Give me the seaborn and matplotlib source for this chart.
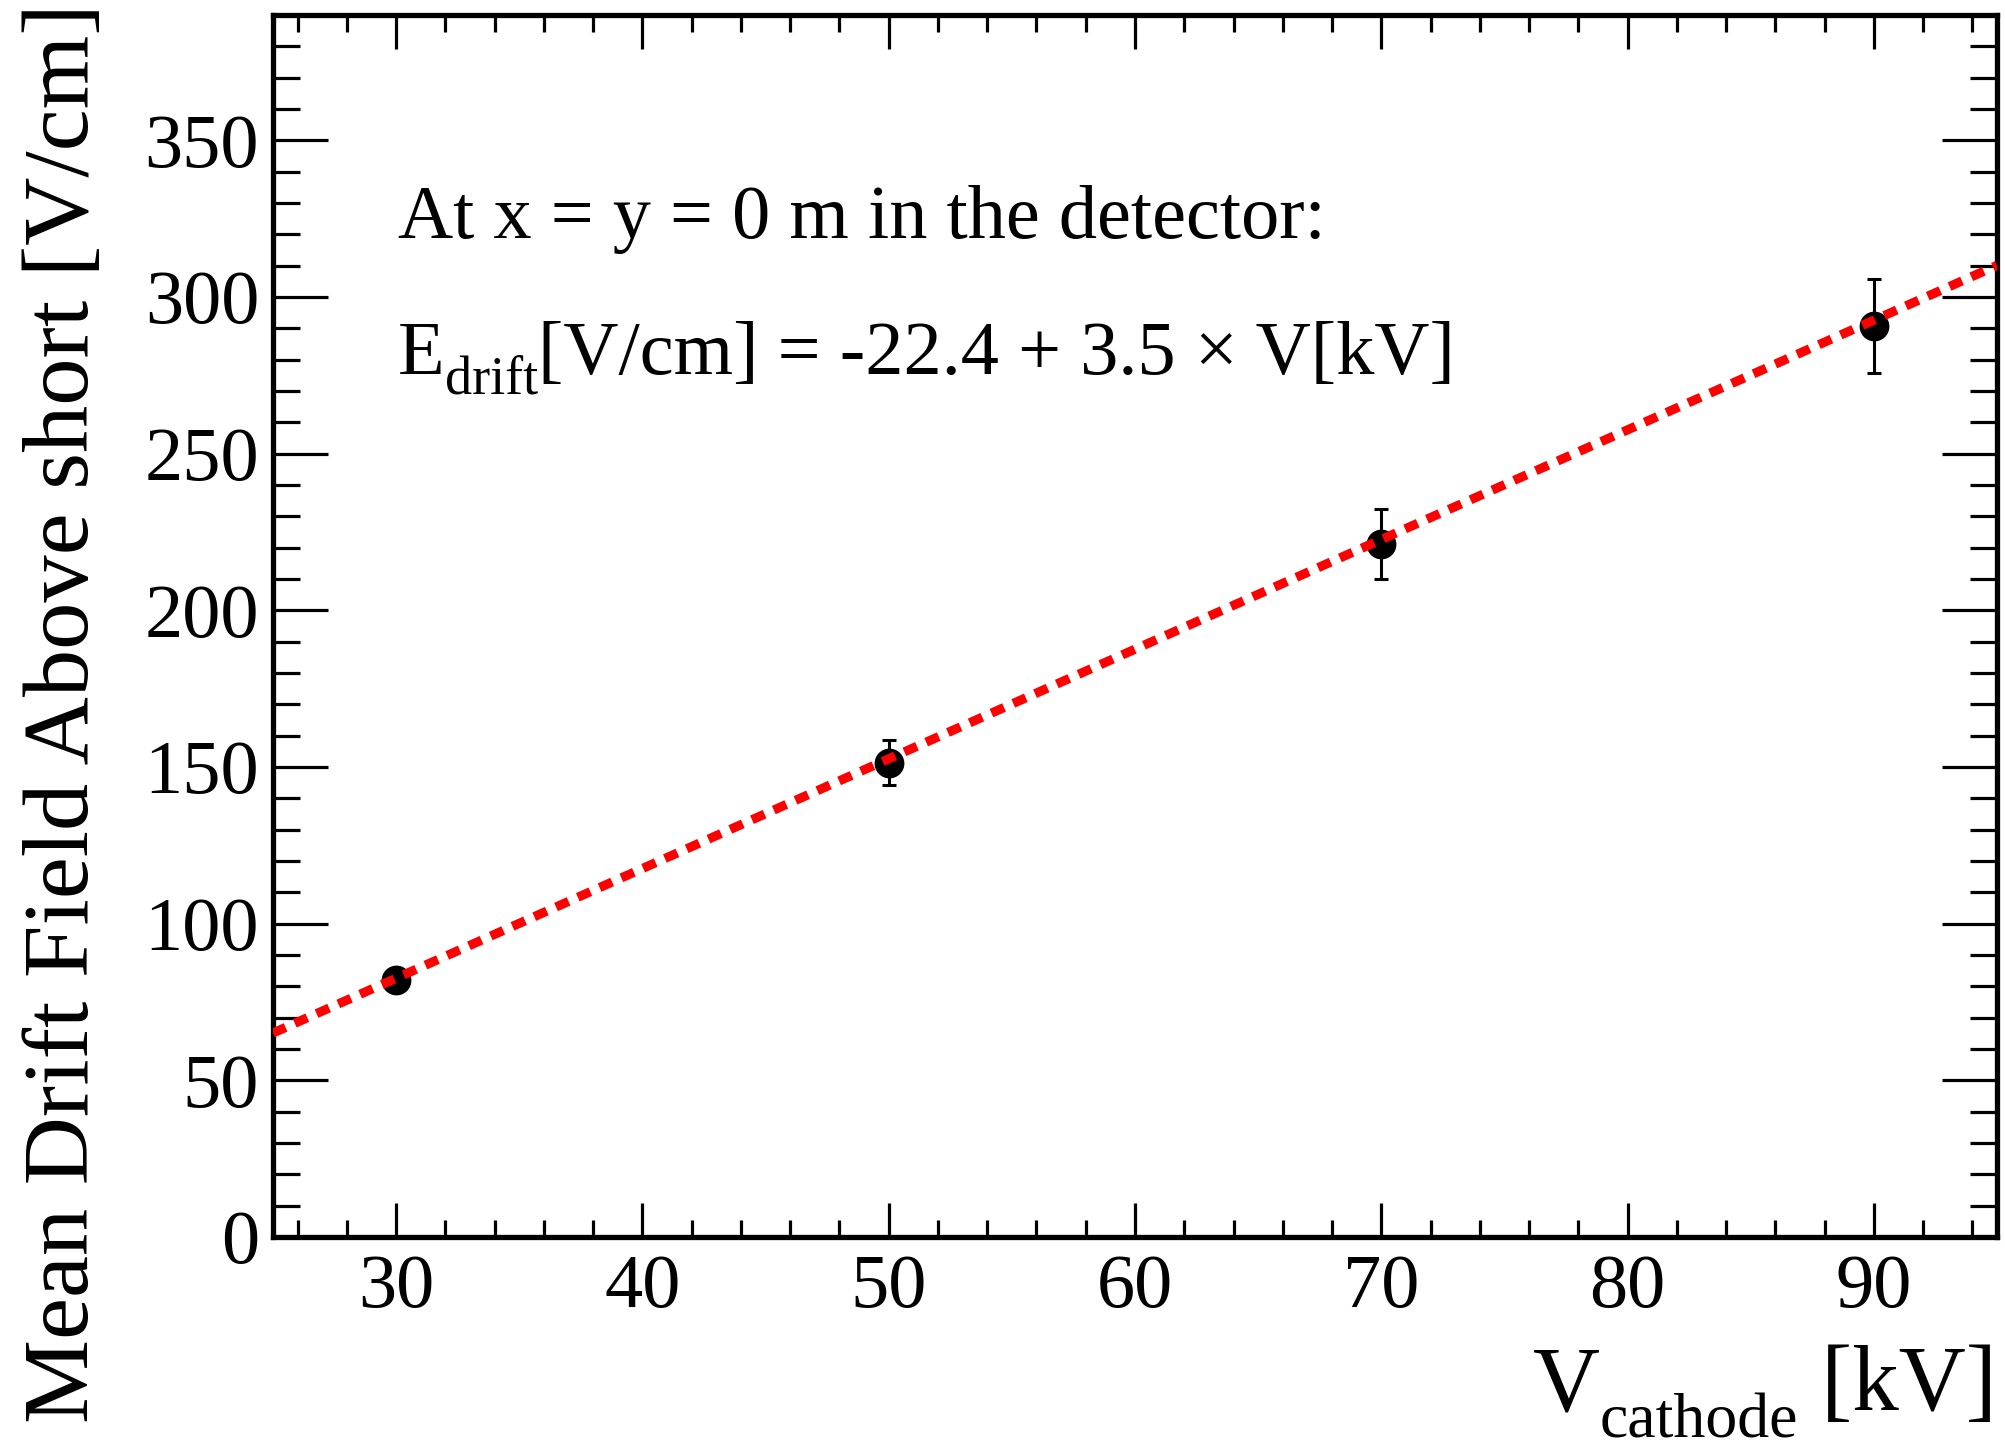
import matplotlib
matplotlib.use("Agg")
import matplotlib.pyplot as plt
import seaborn as sns
import numpy as np
import pandas as pd
from matplotlib.ticker import MultipleLocator

# ---- data ----
v_cathode = [30, 50, 70, 90]
e_drift = [82.0, 151.4, 221.2, 290.6]
e_err = [3.0, 7.2, 11.1, 15.0]
fit_intercept = -22.4
fit_slope = 3.5
fit_range = [25, 95]
x_ticks = [30, 40, 50, 60, 70, 80, 90]
y_ticks = [0, 50, 100, 150, 200, 250, 300, 350]

sns.set_theme(style="ticks")
plt.rcParams["font.family"] = ["Liberation Serif", "DejaVu Serif"]
plt.rcParams["text.color"] = "black"
plt.rcParams["axes.labelcolor"] = "black"
plt.rcParams["xtick.color"] = "black"
plt.rcParams["ytick.color"] = "black"

W, H = 2006, 1447
fig = plt.figure(figsize=(W / 100, H / 100), dpi=100)
L, R, T, B = 273, 1997, 15, 1237
ax = fig.add_axes([L / W, 1 - B / H, (R - L) / W, (B - T) / H])

df = pd.DataFrame({"V": v_cathode, "E": e_drift, "err": e_err})

fx = np.array(fit_range, dtype=float)
fit_df = pd.DataFrame({"V": fx, "E": fit_intercept + fit_slope * fx})

ax.errorbar(df["V"], df["E"], yerr=df["err"], fmt="none", ecolor="black",
            elinewidth=2.2, capsize=5, capthick=2.2, zorder=3)
sns.scatterplot(data=df, x="V", y="E", ax=ax, color="black", s=460,
                edgecolor="black", linewidth=0, zorder=4, legend=False)
sns.lineplot(data=fit_df, x="V", y="E", ax=ax, color="#ff0000", lw=6.6,
             zorder=5, legend=False)
ax.lines[-1].set_dashes((1.5, 1.1))
ax.lines[-1].set_dash_capstyle("butt")

ax.set_xlim(25, 95)
ax.set_ylim(0, 390)
ax.set_xticks(x_ticks)
ax.set_yticks(y_ticks)
ax.xaxis.set_minor_locator(MultipleLocator(2))
ax.yaxis.set_minor_locator(MultipleLocator(10))

for s in ax.spines.values():
    s.set_linewidth(3.8)
    s.set_color("black")
ax.tick_params(axis="both", which="both", direction="in", top=True, right=True,
               colors="black", labelsize=55)
ax.tick_params(axis="x", which="major", length=24.5, width=2.3, pad=12)
ax.tick_params(axis="x", which="minor", length=12, width=2.3)
ax.tick_params(axis="y", which="major", length=39.5, width=2.3, pad=10)
ax.tick_params(axis="y", which="minor", length=19.5, width=2.3)
ax.set_xlabel("")
ax.set_ylabel("")

renderer = fig.canvas.get_renderer()


def compose(x_px, y_px, pieces, align="left"):
    """pieces: list of (text, fontsize, dy_px). Baseline at y_px (from top)."""
    widths = []
    for txt, fs, dy in pieces:
        t = fig.text(0, 0, txt, fontsize=fs)
        bb = t.get_window_extent(renderer)
        widths.append(bb.width)
        t.remove()
    total = sum(widths)
    x = x_px - total if align == "right" else x_px
    for (txt, fs, dy), w in zip(pieces, widths):
        fig.text(x / W, 1 - (y_px + dy) / H, txt, fontsize=fs, ha="left",
                 va="baseline")
        x += w


compose(R, 1410, [("V", 67, 0), ("cathode", 46, 27), (" [kV]", 67, 0)],
        align="right")
fig.text(66 / W, 1 - 3 / H, "Mean Drift Field Above short [V/cm]", ha="center",
         va="top", rotation=90, fontsize=68)

fig.text(398 / W, 1 - 238 / H, "At x = y = 0 m in the detector:", ha="left",
         va="baseline", fontsize=55)
compose(398, 374, [("E", 55, 0), ("drift", 39, 20),
                   ("[V/cm] = -22.4 + 3.5 × V[kV]", 55, 0)])

fig.savefig("out.png", dpi=100, facecolor="white")
